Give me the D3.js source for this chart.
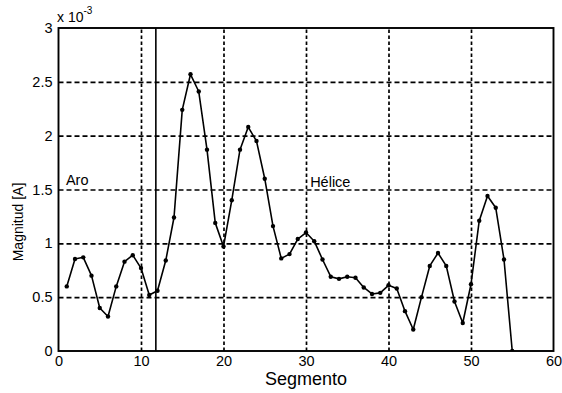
<!DOCTYPE html>
<html>
<head>
<meta charset="utf-8">
<script src="https://cdn.jsdelivr.net/npm/d3@7"></script>
<style>
  html, body { margin: 0; padding: 0; background: #ffffff; }
  svg { display: block; }
  text { font-family: "Liberation Sans", Arial, sans-serif; fill: #000; }
</style>
</head>
<body>
<svg id="chart" width="562" height="393"></svg>
<script>
// ---- data (values in units of 1e-3 A) ----
const segments = d3.range(1, 56);
const magnitude = [
  0.60, 0.855, 0.87, 0.70, 0.40, 0.32, 0.60, 0.83, 0.89, 0.77,
  0.52, 0.56, 0.84, 1.24, 2.24, 2.57, 2.41, 1.87, 1.19, 0.97,
  1.40, 1.87, 2.08, 1.95, 1.60, 1.16, 0.86, 0.90, 1.04, 1.10,
  1.02, 0.85, 0.69, 0.67, 0.69, 0.68, 0.59, 0.53, 0.54, 0.61,
  0.58, 0.37, 0.20, 0.50, 0.79, 0.91, 0.79, 0.46, 0.26, 0.62,
  1.21, 1.44, 1.33, 0.85, 0.00
];
const xTicks = [0, 10, 20, 30, 40, 50, 60];
const yTicks = [0, 0.5, 1, 1.5, 2, 2.5, 3];
const yTickLabels = ["0", "0.5", "1", "1.5", "2", "2.5", "3"];
const boundarySegment = [11.8];
const annotations = [
  { text: "Aro", seg: 0.9, val: 1.54 },
  { text: "Hélice", seg: 30.5, val: 1.52 }
];

// ---- layout ----
const margin = { left: 58.5, top: 28, right: 8.5, bottom: 42 };
const W = 562, H = 393;
const iw = W - margin.left - margin.right;
const ih = H - margin.top - margin.bottom;

const svg = d3.select("#chart");
const g = svg.append("g").attr("transform", `translate(${margin.left},${margin.top})`);

const x = d3.scaleLinear().domain([0, 60]).range([0, iw]);
const y = d3.scaleLinear().domain([0, 3]).range([ih, 0]);

svg.append("defs").append("clipPath").attr("id", "clip")
  .append("rect").attr("x", 0).attr("y", 0).attr("width", iw).attr("height", ih);

// grid lines (dashed) via axes
const gx = g.append("g").attr("transform", `translate(0,${ih})`)
  .call(d3.axisBottom(x).tickValues(xTicks.slice(1, -1)).tickSize(-ih).tickFormat(""));
gx.select(".domain").remove();
gx.selectAll("line").attr("stroke", "#000").attr("stroke-width", 1.7).attr("stroke-dasharray", "3.5,2.5");

const gy = g.append("g")
  .call(d3.axisLeft(y).tickValues(yTicks.slice(1, -1)).tickSize(-iw).tickFormat(""));
gy.select(".domain").remove();
gy.selectAll("line").attr("stroke", "#000").attr("stroke-width", 1.7).attr("stroke-dasharray", "5,3");

// tick labels
const xl = g.append("g").attr("transform", `translate(0,${ih})`)
  .call(d3.axisBottom(x).tickValues(xTicks).tickSize(0).tickPadding(5).tickFormat(d3.format("d")));
xl.select(".domain").remove();
xl.selectAll("text").attr("font-size", 14.5).attr("dy", "0.71em")
  .style("font-family", "'Liberation Sans', Arial, sans-serif");

const yl = g.append("g")
  .call(d3.axisLeft(y).tickValues(yTicks).tickSize(0).tickPadding(6)
    .tickFormat((d, i) => yTickLabels[i]));
yl.select(".domain").remove();
yl.selectAll("text").attr("font-size", 14.5)
  .style("font-family", "'Liberation Sans', Arial, sans-serif");

// boundary line between Aro and Hélice
g.selectAll(".boundary").data(boundarySegment).enter().append("line")
  .attr("x1", d => x(d)).attr("x2", d => x(d))
  .attr("y1", 0).attr("y2", ih)
  .attr("stroke", "#000").attr("stroke-width", 1.6);

// data line + markers
const pts = segments.map((s, i) => ({ s, v: magnitude[i] }));
const plot = g.append("g").attr("clip-path", "url(#clip)");
plot.append("path").datum(pts)
  .attr("fill", "none").attr("stroke", "#000").attr("stroke-width", 1.6)
  .attr("stroke-linejoin", "round")
  .attr("d", d3.line().x(d => x(d.s)).y(d => y(d.v)));
plot.selectAll("circle").data(pts).enter().append("circle")
  .attr("cx", d => x(d.s)).attr("cy", d => y(d.v)).attr("r", 2.2).attr("fill", "#000");

// annotations
g.selectAll(".ann").data(annotations).enter().append("text")
  .attr("x", d => x(d.seg)).attr("y", d => y(d.val))
  .attr("font-size", 14.5).text(d => d.text);

// frame
g.append("rect").attr("x", 0).attr("y", 0).attr("width", iw).attr("height", ih)
  .attr("fill", "none").attr("stroke", "#000").attr("stroke-width", 1.9);

// exponent label
const ex = svg.append("text").attr("x", 57).attr("y", 22).attr("font-size", 14);
ex.append("tspan").text("x 10");
ex.append("tspan").attr("dy", -8).attr("font-size", 10).text("-3");

// axis titles
svg.append("text").attr("x", margin.left + x(30)).attr("y", 385)
  .attr("text-anchor", "middle").attr("font-size", 18).text("Segmento");
svg.append("text").attr("transform", "translate(23,222) rotate(-90)")
  .attr("text-anchor", "middle").attr("font-size", 14).text("Magnitud [A]");
</script>
</body>
</html>
